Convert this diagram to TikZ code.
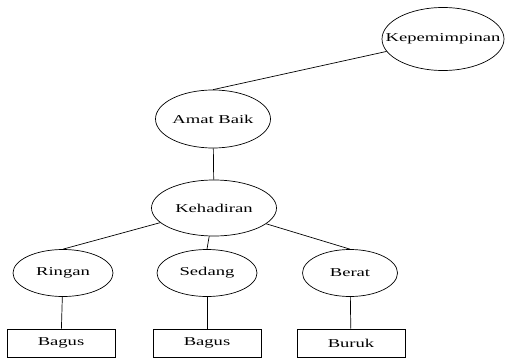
\documentclass[tikz,border=0pt]{standalone}
\usepackage{fontspec}
\usetikzlibrary{shapes.geometric}
\newfontfamily\labelfont{Liberation Serif}[FakeStretch=1.55]
\newcommand{\ovaltxt}[1]{\makebox[0pt]{#1}}

\tikzset{
	node_oval/.style={draw,ellipse,inner sep=0,line width=0.7pt},
	node_box/.style={draw,rectangle,inner sep=0,line width=0.7pt,minimum width=108,minimum height=28},
	edge_line/.style={line width=0.7pt}
}

\begin{document}
\begin{tikzpicture}[black,x=1pt,y=-1pt,every node/.style={font=\labelfont\fontsize{12}{14}\selectfont}]
				\useasboundingbox (0, 0) rectangle (505, 358);
				% Ovals
				\node[node_oval,minimum width=122,minimum height=63] (kep) at (443, 39) {\ovaltxt{Kepemimpinan}};
				\node[node_oval,minimum width=115,minimum height=58] (amat) at (213, 119) {\ovaltxt{Amat Baik}};
				\node[node_oval,minimum width=125,minimum height=56] (hadir) at (214, 208) {\ovaltxt{Kehadiran}};
				\node[node_oval,minimum width=100,minimum height=47] (ringan) at (63, 273) {\ovaltxt{Ringan}};
				\node[node_oval,minimum width=100,minimum height=47] (sedang) at (207, 273) {\ovaltxt{Sedang}};
				\node[node_oval,minimum width=95,minimum height=47] (berat) at (350, 273) {\ovaltxt{Berat}};
				
				% Boxes
				\node[node_box] (bagusA) at (61, 343) {Bagus};
				\node[node_box] (bagusB) at (207, 343) {Bagus};
				\node[node_box] (buruk) at (351, 343) {Buruk};
				
				% Lines
				\draw[edge_line] (amat.north) -- (kep);
				\draw[edge_line] (amat) -- (hadir);
				\draw[edge_line] (ringan.north) -- (hadir);
				\draw[edge_line] (sedang.north) -- (hadir);
				\draw[edge_line] (berat.north) -- (hadir);
				\draw[edge_line] (ringan) -- (bagusA);
				\draw[edge_line] (sedang) -- (bagusB);
				\draw[edge_line] (berat) -- (buruk);
			\end{tikzpicture}
\end{document}
